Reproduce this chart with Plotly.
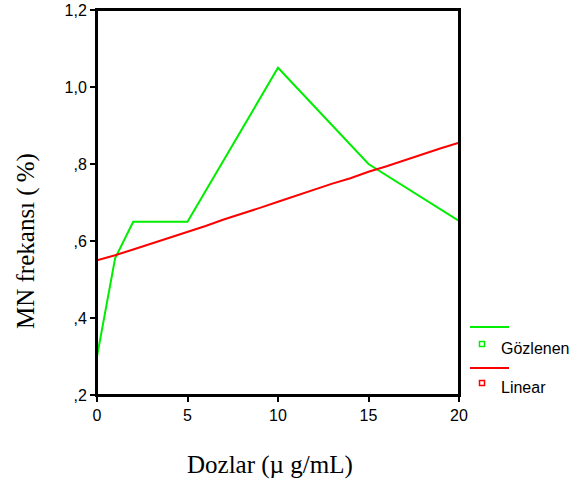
import plotly.graph_objects as go

obs_x = [0, 1, 2, 5, 10, 15, 20]
obs_y = [0.30, 0.555, 0.65, 0.65, 1.05, 0.80, 0.652]

lin_x = list(range(0, 21))
lin_y = [0.550, 0.563, 0.578, 0.593, 0.609, 0.625, 0.639, 0.656, 0.670, 0.686,
         0.702, 0.718, 0.732, 0.749, 0.763, 0.780, 0.794, 0.810, 0.824, 0.841, 0.855]

y_ticks = [0.2, 0.4, 0.6, 0.8, 1.0, 1.2]
y_tick_labels = [",2", ",4", ",6", ",8", "1,0", "1,2"]
x_ticks = [0, 5, 10, 15, 20]
x_tick_labels = ["0", "5", "10", "15", "20"]

series_names = ["Gözlenen", "Linear"]
x_title = "Dozlar (µ g/mL)"
y_title = "MN frekansı (\u2009%)"
green = "#00ee00"
red = "#ff0000"

fig = go.Figure()
fig.add_trace(go.Scatter(x=obs_x, y=obs_y, mode="lines", line=dict(color=green, width=2),
                         name=series_names[0], showlegend=False, hoverinfo="skip"))
fig.add_trace(go.Scatter(x=lin_x, y=lin_y, mode="lines", line=dict(color=red, width=2),
                         name=series_names[1], showlegend=False, hoverinfo="skip"))

L, R, T, B = 97, 459, 10, 395
W, H = 577, 481
pw, ph = R - L, B - T


def px(xp):
    return (xp - L) / pw


def py(yp):
    return (B - yp) / ph


sans = "Liberation Sans, Arial, sans-serif"
serif = "Liberation Serif, Times New Roman, serif"

shapes = [dict(type="rect", xref="paper", yref="paper", x0=0, x1=1, y0=0, y1=1,
               line=dict(color="black", width=2), fillcolor="rgba(0,0,0,0)", layer="above")]
annotations = []
legend_rows = [(327, 344, 348, green, series_names[0]), (368, 383, 387, red, series_names[1])]
for line_y, sq_y, txt_y, col, name in legend_rows:
    shapes.append(dict(type="line", xref="paper", yref="paper",
                       x0=px(470), x1=px(509), y0=py(line_y), y1=py(line_y),
                       line=dict(color=col, width=2)))
    shapes.append(dict(type="rect", xref="paper", yref="paper",
                       x0=px(479.5), x1=px(484.5), y0=py(sq_y + 2.5), y1=py(sq_y - 2.5),
                       line=dict(color=col, width=1.5), fillcolor="white"))
    annotations.append(dict(xref="paper", yref="paper", x=px(499), y=py(txt_y),
                            text=name, showarrow=False, xanchor="left", yanchor="middle",
                            font=dict(family=sans, size=16, color="black")))

annotations.append(dict(xref="paper", yref="paper", x=px(270), y=py(465), text=x_title,
                        showarrow=False, xanchor="center", yanchor="middle",
                        font=dict(family=serif, size=25, color="black")))
annotations.append(dict(xref="paper", yref="paper", x=px(26), y=py(241), text=y_title,
                        showarrow=False, xanchor="center", yanchor="middle", textangle=-90,
                        font=dict(family=serif, size=25, color="black")))

fig.update_layout(
    width=W, height=H,
    margin=dict(l=L, r=W - R, t=T, b=H - B),
    plot_bgcolor="white", paper_bgcolor="white",
    showlegend=False,
    shapes=shapes, annotations=annotations,
    xaxis=dict(range=[0, 20], tickvals=x_ticks, ticktext=x_tick_labels, automargin=False,
               showgrid=False, zeroline=False, showline=True, linecolor="black",
               linewidth=2, mirror=True, ticks="outside", ticklen=5, tickwidth=1.5,
               tickcolor="black",
               tickfont=dict(family=sans, size=16, color="black")),
    yaxis=dict(range=[0.2, 1.2], tickvals=y_ticks, ticktext=y_tick_labels, automargin=False,
               showgrid=False, zeroline=False, showline=True, linecolor="black",
               linewidth=2, mirror=True, ticks="outside", ticklen=5, tickwidth=1.5,
               tickcolor="black",
               tickfont=dict(family=sans, size=16, color="black")),
)

fig.write_html("out.html", config={"displayModeBar": False},
               post_script="document.body.style.margin='0';document.body.style.overflow='hidden';")
